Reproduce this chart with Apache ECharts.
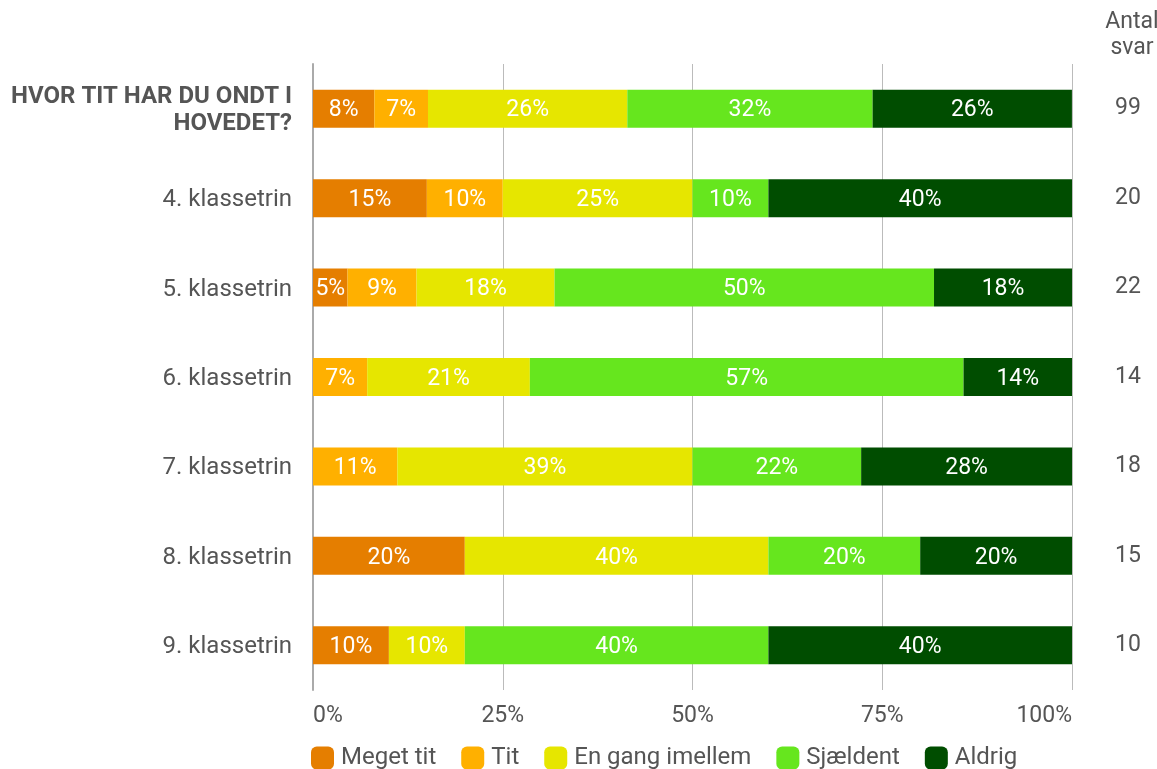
<!DOCTYPE html>
<html>
<head>
<meta charset="utf-8">
<script src="https://cdn.jsdelivr.net/npm/echarts@6/dist/echarts.min.js"></script>
<style>
html,body{margin:0;padding:0;background:#fff;}
#chart{width:1157px;height:769px;}
</style>
</head>
<body>
<div id="chart"></div>
<script>
const categories = ['HVOR TIT HAR DU ONDT I\nHOVEDET?', '4. klassetrin', '5. klassetrin', '6. klassetrin', '7. klassetrin', '8. klassetrin', '9. klassetrin'];
const antalSvar = ['99', '20', '22', '14', '18', '15', '10'];
const seriesNames = ['Meget tit', 'Tit', 'En gang imellem', 'Sjældent', 'Aldrig'];
const colors = ['#e57e00', '#ffb000', '#e6e600', '#66e61e', '#004d00'];
const megetTit = [8.08, 15, 4.55, 0, 0, 20, 10];
const tit = [7.07, 10, 9.09, 7.14, 11.11, 0, 0];
const enGang = [26.26, 25, 18.18, 21.43, 38.89, 40, 10];
const sjaeldent = [32.32, 10, 50, 57.14, 22.22, 20, 40];
const aldrig = [26.26, 40, 18.18, 14.29, 27.78, 20, 40];
const xTicks = [0, 25, 50, 75, 100];
const antalHeader = 'Antal\nsvar';

const allData = [megetTit, tit, enGang, sjaeldent, aldrig];
const chart = echarts.init(document.getElementById('chart'));
const FONT = 'Roboto';
const option = {
  animation: false,
  textStyle: { fontFamily: FONT },
  graphic: [{
    type: 'text', x: 1132, y: 9,
    style: { text: antalHeader, fontFamily: FONT, fontSize: 23, fill: '#555', align: 'center', lineHeight: 26 }
  }],
  legend: {
    left: 306, bottom: -6,
    itemWidth: 23, itemHeight: 23, itemGap: 25,
    icon: 'roundRect',
    textStyle: { fontFamily: FONT, fontSize: 24, color: '#555', padding: [0, 0, 0, 2] },
    data: seriesNames
  },
  grid: { left: 313, right: 85, top: 64, bottom: 79, containLabel: false },
  xAxis: {
    type: 'value', min: 0, max: 100, interval: 25,
    axisLine: { show: false },
    axisTick: { show: false },
    splitLine: { show: true, lineStyle: { color: '#bbb', width: 1 } },
    axisLabel: {
      fontFamily: FONT, fontSize: 23, color: '#555', margin: 15,
      formatter: v => xTicks.includes(v) ? v + '%' : '',
      alignMinLabel: 'left', alignMaxLabel: 'right'
    }
  },
  yAxis: [{
    type: 'category', inverse: true, data: categories,
    axisLine: { show: true, lineStyle: { color: '#aaa', width: 2 } },
    axisTick: { show: false },
    axisLabel: {
      fontFamily: FONT, fontSize: 24, color: '#555', margin: 21, padding: [4, 0, 0, 0],
      formatter: (v, i) => {
        if (i === 0) return v.split('\n').map(s => '{b|' + s + '}').join('\n');
        return v;
      },
      rich: { b: { fontFamily: FONT, fontSize: 24, fontWeight: 'bold', color: '#555', lineHeight: 27, align: 'right' } }
    }
  }, {
    type: 'category', inverse: true, data: antalSvar, position: 'right',
    axisLine: { show: false }, axisTick: { show: false },
    axisLabel: { fontFamily: FONT, fontSize: 23, color: '#555', margin: 56, align: 'center', padding: [4, 0, 0, 0] }
  }],
  series: seriesNames.map((name, k) => ({
    name, type: 'bar', stack: 'total', barWidth: 38, yAxisIndex: 0,
    itemStyle: { color: colors[k] },
    label: {
      show: true, position: 'inside', color: '#fff', fontFamily: FONT, fontSize: 23,
      offset: [0, 2],
      formatter: p => p.value > 0 ? Math.round(p.value) + '%' : ''
    },
    data: allData[k]
  }))
};
chart.setOption(option);
</script>
</body>
</html>
